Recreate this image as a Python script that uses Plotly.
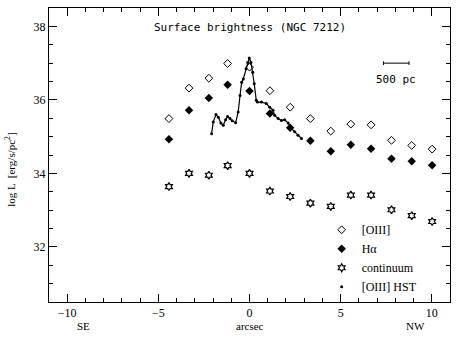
import plotly.graph_objects as go

# slit positions along the NW-SE axis (arcsec)
pos = [-4.42, -3.32, -2.23, -1.2, 0.0, 1.12, 2.23, 3.34, 4.46, 5.56, 6.67, 7.79, 8.9, 10.02]
oiii = [35.49, 36.32, 36.59, 36.99, 36.89, 36.25, 35.80, 35.49, 35.15, 35.34, 35.32, 34.90, 34.76, 34.66]
halpha = [34.93, 35.72, 36.05, 36.41, 36.24, 35.63, 35.24, 34.89, 34.60, 34.78, 34.67, 34.40, 34.33, 34.22]
cont = [33.64, 34.00, 33.95, 34.21, 34.00, 33.52, 33.37, 33.19, 33.10, 33.41, 33.41, 33.01, 32.85, 32.69]

# HST [OIII] profile
hst_x = [-2.08, -1.99, -1.84, -1.71, -1.57, -1.44, -1.31, -1.20, -1.07, -0.95, -0.76,
         -0.62, -0.52, -0.43, -0.34, -0.19, -0.10, -0.01, 0.08, 0.18, 0.26, 0.37, 0.43,
         0.65, 0.92, 1.11, 1.29, 1.38, 1.57, 1.75, 1.93, 2.12, 2.30, 2.48, 2.66, 2.85]
hst_y = [35.08, 35.40, 35.60, 35.53, 35.37, 35.31, 35.46, 35.55, 35.49, 35.43, 35.38,
         35.67, 36.12, 36.48, 36.57, 36.85, 37.02, 37.14, 37.02, 36.75, 36.44, 35.99, 35.94,
         35.94, 35.90, 35.80, 35.72, 35.58, 35.49, 35.44, 35.46, 35.37, 35.22, 35.13, 35.04, 34.95]

SCALE_X = [7.35, 8.75]  # 500 pc bar in arcsec
SCALE_Y = 37.0

SERIF = 'Liberation Serif'
MONO = 'DejaVu Sans Mono'

fig = go.Figure()
fig.add_trace(go.Scatter(
    x=pos, y=oiii, mode='markers', name='[OIII]',
    marker=dict(symbol='diamond-open', size=6, color='black', line=dict(width=1)),
))
fig.add_trace(go.Scatter(
    x=pos, y=halpha, mode='markers', name='Hα',
    marker=dict(symbol='diamond', size=6.5, color='black'),
))
fig.add_trace(go.Scatter(
    x=pos, y=cont, mode='markers', name='continuum',
    marker=dict(symbol='hexagram-open', size=6, color='black', line=dict(width=1.2)),
))
fig.add_trace(go.Scatter(
    x=hst_x, y=hst_y, mode='lines', showlegend=False,
    line=dict(color='black', width=1.2),
))
fig.add_trace(go.Scatter(
    x=hst_x, y=hst_y, mode='markers', name='[OIII] HST',
    marker=dict(symbol='circle', size=3, color='black'),
))

# scale bar
fig.add_shape(type='line', x0=SCALE_X[0], x1=SCALE_X[1], y0=SCALE_Y, y1=SCALE_Y,
              line=dict(color='black', width=1))
for sx in SCALE_X:
    fig.add_shape(type='line', x0=sx, x1=sx, y0=SCALE_Y - 0.05, y1=SCALE_Y + 0.05,
                  line=dict(color='black', width=1))

annots = [
    dict(x=0, y=37.96, text='Surface brightness (NGC 7212)', xref='x', yref='y',
         font=dict(family=MONO, size=11, color='black')),
    dict(x=sum(SCALE_X) / 2, y=36.55, text='500 pc', xref='x', yref='y',
         font=dict(family=MONO, size=11, color='black')),
    dict(x=-9.1, y=0, yshift=-24, text='SE', xref='x', yref='paper',
         font=dict(family=SERIF, size=11, color='black')),
    dict(x=0, y=0, yshift=-24, text='arcsec', xref='x', yref='paper',
         font=dict(family=SERIF, size=11, color='black')),
    dict(x=9.1, y=0, yshift=-24, text='NW', xref='x', yref='paper',
         font=dict(family=SERIF, size=11, color='black')),
    dict(x=-0.097, y=0.45, text='log L  [erg/s/pc<sup>2</sup>]', xref='paper', yref='paper',
         textangle=-90, font=dict(family=SERIF, size=11, color='black')),
]
for a in annots:
    fig.add_annotation(showarrow=False, xanchor='center', yanchor='middle', **a)

axis_common = dict(
    showgrid=False, zeroline=False, showline=True, linecolor='black', linewidth=1,
    mirror='ticks', ticks='inside', ticklen=8, tickwidth=1, tickcolor='black',
    tickfont=dict(family=SERIF, size=12, color='black'),
)
fig.update_xaxes(
    range=[-11, 11], tickmode='linear', tick0=-10, dtick=5,
    minor=dict(ticks='inside', ticklen=4, dtick=1, tick0=0, tickcolor='black'),
    **axis_common,
)
fig.update_yaxes(
    range=[30.5, 38.5], tickmode='linear', tick0=32, dtick=2,
    minor=dict(ticks='inside', ticklen=4, dtick=0.5, tick0=30.5, tickcolor='black'),
    **axis_common,
)

fig.update_layout(
    width=456, height=338,
    margin=dict(l=49, r=6, t=8, b=36),
    plot_bgcolor='white', paper_bgcolor='white',
    font=dict(family=SERIF, color='black'),
    legend=dict(x=0.68, y=0.295, xanchor='left', yanchor='top',
                bgcolor='rgba(0,0,0,0)', font=dict(family=SERIF, size=12, color='black'),
                tracegroupgap=0, itemwidth=30),
)

# drop the page's default body margin so the figure sits at the window's corner
fig.write_html('out.html', config={'displayModeBar': False},
               post_script="document.body.style.margin='0';")
